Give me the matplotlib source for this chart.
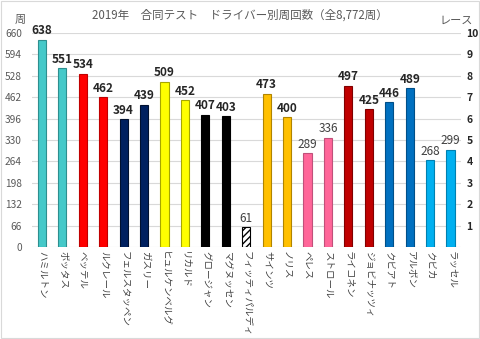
import matplotlib
matplotlib.use("Agg")
import matplotlib.pyplot as plt
from matplotlib.patches import Rectangle

plt.rcParams['font.family'] = ['Noto Sans CJK JP', 'DejaVu Sans']
plt.rcParams['hatch.linewidth'] = 1.0

# ドライバー別周回数
drivers = ['ハミルトン', 'ボッタス', 'ベッテル', 'ルクレール', 'フェルスタッペン', 'ガスリー',
           'ヒュルケンベルグ', 'リカルド', 'グロージャン', 'マグヌッセン', 'フィッティパルディ',
           'サインツ', 'ノリス', 'ペレス', 'ストロール', 'ライコネン', 'ジョビナッツィ',
           'クビアト', 'アルボン', 'クビカ', 'ラッセル']
laps = [638, 551, 534, 462, 394, 439, 509, 452, 407, 403, 61,
        473, 400, 289, 336, 497, 425, 446, 489, 268, 299]
fills = ['#45C9C9', '#45C9C9', '#FF0000', '#FF0000', '#002060', '#002060',
         '#FFFF00', '#FFFF00', '#000000', '#000000', 'white',
         '#FFC000', '#FFC000', '#FF6699', '#FF6699', '#C00000', '#C00000',
         '#0070C0', '#0070C0', '#00B0F0', '#00B0F0']
edges = ['#2E8F8F', '#2E8F8F', '#C00000', '#C00000', '#001030', '#001030',
         '#A6A600', '#A6A600', '#000000', '#000000', '#000000',
         '#B08400', '#B08400', '#C0507A', '#C0507A', '#800000', '#800000',
         '#004F88', '#004F88', '#0080B0', '#0080B0']
bold_labels = [True] * 10 + [False] + [True, True, False, False, True, True, True, True, False, False]

left_ticks = [0, 66, 132, 198, 264, 330, 396, 462, 528, 594, 660]
race_ticks = [1, 2, 3, 4, 5, 6, 7, 8, 9, 10]

fig = plt.figure(figsize=(4.8, 3.39), dpi=100)
ax = fig.add_axes([0.066, 0.271, 0.894, 0.632])
x = list(range(len(drivers)))
bars = ax.bar(x, laps, width=0.4, color=fills, edgecolor=edges, linewidth=0.8, zorder=3)
bars[10].set_hatch('/////')

for xi, v, b in zip(x, laps, bold_labels):
    ax.text(xi, v + 8, str(v), ha='center', va='bottom', fontsize=8.5,
            fontweight='bold' if b else 'normal', color='#262626' if b else '#404040')

ax.set_xlim(-0.5, 20.5)
ax.set_ylim(0, 660)
ax.set_yticks(left_ticks)
ax.tick_params(axis='y', length=0, labelsize=7.3, labelcolor='#595959', pad=7)
ax.set_xticks(x)
ax.set_xticklabels(drivers, rotation=270, fontsize=6.8, color='#404040', va='top', ha='center')
ax.tick_params(axis='x', length=0, pad=3)
ax.grid(axis='y', color='#D9D9D9', linewidth=0.8, zorder=0)
for s in ax.spines.values():
    s.set_visible(False)

ax2 = ax.twinx()
ax2.set_ylim(0, 10)
ax2.set_yticks(race_ticks)
ax2.tick_params(axis='y', length=0, labelsize=7.5, labelcolor='#262626', pad=4)
for lab in ax2.get_yticklabels():
    lab.set_fontweight('bold')
for s in ax2.spines.values():
    s.set_visible(False)

fig.text(0.5, 0.955, '2019年　合同テスト　ドライバー別周回数（全8,772周）', ha='center', va='center',
         fontsize=8.3, color='#595959')
fig.text(0.042, 0.94, '周', ha='center', va='center', fontsize=8, color='#595959')
fig.text(0.95, 0.94, 'レース', ha='center', va='center', fontsize=8, color='#595959')

fig.patches.append(Rectangle((0.002, 0.003), 0.995, 0.994, transform=fig.transFigure,
                             fill=False, edgecolor='#D9D9D9', linewidth=0.8))

fig.savefig('out.png', dpi=100)
